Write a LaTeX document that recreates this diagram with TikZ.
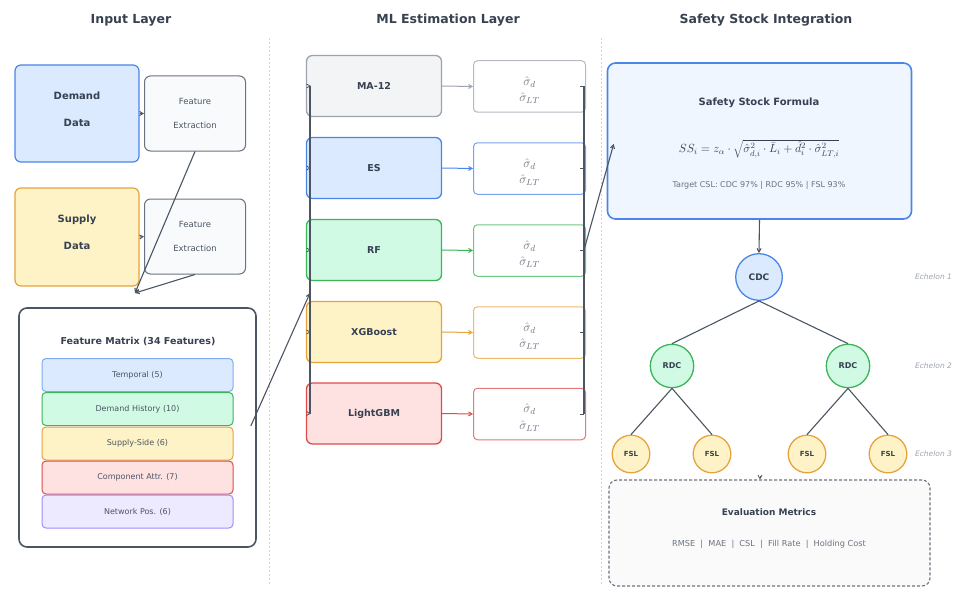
\RequirePackage{fix-cm}
\documentclass[tikz,border=0pt]{standalone}
\usepackage{fontspec}
\setmainfont{DejaVu Sans}
\usetikzlibrary{arrows.meta,calc}
\definecolor{txtdark}{HTML}{374151}
\definecolor{txtgray}{HTML}{6B7280}
\definecolor{txtlight}{HTML}{9CA3AF}
\definecolor{connc}{HTML}{4B5563}
\definecolor{bluefill}{HTML}{DBEAFE}
\definecolor{blueline}{HTML}{4A86E8}
\definecolor{yellowfill}{HTML}{FEF3C7}
\definecolor{yellowline}{HTML}{E6A23C}
\definecolor{greenfill}{HTML}{D1FAE5}
\definecolor{greenline}{HTML}{3CB45A}
\definecolor{redfill}{HTML}{FEE2E2}
\definecolor{redline}{HTML}{DC4C4C}
\definecolor{purplefill}{HTML}{EDE9FE}
\definecolor{purpleline}{HTML}{A78BFA}
\definecolor{grayfill}{HTML}{F3F4F6}
\definecolor{grayline}{HTML}{9CA3AF}
\definecolor{fefill}{HTML}{F8FAFC}
\definecolor{feline}{HTML}{6B7280}
\definecolor{ssfill}{HTML}{EFF6FF}
\definecolor{evalfill}{HTML}{FAFAFA}
\definecolor{sepc}{HTML}{D1D5DB}
\begin{document}
\begin{tikzpicture}[x=1pt,y=-1pt,
  box/.style={draw, rounded corners=6pt, line width=1.2pt, inner sep=0pt},
  title/.style={font=\bfseries\fontsize{12.5}{15}\selectfont, text=txtdark},
  tbold/.style={font=\bfseries\fontsize{10}{12}\selectfont, text=txtdark},
  conn/.style={draw=connc, line width=1.1pt},
  arr/.style={-{Straight Barb[length=3.5pt,width=4pt]}},
  sepline/.style={draw=sepc, line width=0.8pt, dash pattern=on 2pt off 2pt},
  featbox/.style={box, rounded corners=4pt, line width=1pt, minimum width=191pt, minimum height=33pt, font=\fontsize{8}{10}\selectfont, text=connc},
  model/.style={box, line width=1.3pt, minimum width=135pt, minimum height=61pt, font=\bfseries\fontsize{9.5}{11}\selectfont, text=txtdark},
  outbox/.style={box, rounded corners=4pt, line width=1pt, fill=white, minimum width=112pt, minimum height=51.5pt},
  sig/.style={font=\fontsize{12.5}{14}\selectfont, text=txtgray},
  circ/.style={circle, draw, line width=1.3pt, inner sep=0pt, text=txtdark},
  ech/.style={font=\itshape\fontsize{7.5}{9}\selectfont, text=txtlight},
]
\useasboundingbox (0,0) rectangle (954,602);

% titles
\node[title] (t1) at (131,20) {Input Layer};
\node[title] (t2) at (448,20) {ML Estimation Layer};
\node[title] (t3) at (766,20) {Safety Stock Integration};

% separators
\draw[sepline] (269,38) -- (269,584);
\draw[sepline] (601,38) -- (601,584);

% input layer
\node[box, fill=bluefill, draw=blueline, minimum width=124pt, minimum height=97pt] (demand) at (77,113.5) {};
\node[tbold, align=center] (demandtxt) at (77,109.5) {Demand\\[15pt]Data};
\node[box, fill=yellowfill, draw=yellowline, minimum width=124pt, minimum height=98pt] (supply) at (77,237) {};
\node[tbold, align=center] (supplytxt) at (77,232.5) {Supply\\[15pt]Data};
\node[box, fill=fefill, draw=feline, line width=1pt, minimum width=101pt, minimum height=75pt, font=\fontsize{8.5}{10.2}\selectfont, text=connc, align=center] (fe1) at (195,113.5) {Feature\\[13.8pt]Extraction};
\node[box, fill=fefill, draw=feline, line width=1pt, minimum width=101pt, minimum height=75pt, font=\fontsize{8.5}{10.2}\selectfont, text=connc, align=center] (fe2) at (195,236.5) {Feature\\[13.8pt]Extraction};
\draw[conn, arr, line width=0.9pt] (demand.east) -- (fe1.west);
\draw[conn, arr, line width=0.9pt] (supply.east) -- (fe2.west);
\coordinate (merge) at (135,293);
\draw[conn, arr] (fe1.south) -- (merge);
\draw[conn, arr] (fe2.south) -- (merge);

% feature matrix
\node[box, fill=white, draw=connc, line width=1.6pt, rounded corners=8pt, minimum width=237pt, minimum height=239pt] (fm) at (137.5,427.5) {};
\node[font=\bfseries\fontsize{9.5}{11}\selectfont, text=txtdark] (fmtitle) at (138,342) {Feature Matrix (34 Features)};
\node[featbox, fill=bluefill, draw=blueline!70!white] (f1) at (137.5,375) {Temporal (5)};
\node[featbox, fill=greenfill, draw=greenline] (f2) at (137.5,409) {Demand History (10)};
\node[featbox, fill=yellowfill, draw=yellowline] (f3) at (137.5,443.5) {Supply-Side (6)};
\node[featbox, fill=redfill, draw=redline] (f4) at (137.5,477.5) {Component Attr. (7)};
\node[featbox, fill=purplefill, draw=purpleline] (f5) at (137.5,511.5) {Network Pos. (6)};

% ML layer
\coordinate (busin) at (310,293);
\draw[conn, arr] ([xshift=-6pt,yshift=1.5pt]fm.east) -- (busin);
\coordinate (bLtop) at (310,86);
\coordinate (bLbot) at (310,413.5);
\coordinate (bRtop) at (584,86);
\coordinate (bRbot) at (584,413.5);
\foreach \n/\lab/\yy/\fc/\lc in {m1/MA-12/86/grayfill/grayline, m2/ES/168/bluefill/blueline, m3/RF/250/greenfill/greenline, m4/XGBoost/332/yellowfill/yellowline, m5/LightGBM/413.5/redfill/redline}{
  \node[model, fill=\fc, draw=\lc] (\n) at (374,\yy) {\lab};
  \node[outbox, draw=\lc!75!white] (o\n) at (529.5,\yy+0.5) {};
  \node[sig] (sa\n) at (529.5,\yy-4) {$\hat{\sigma}_d$};
  \node[sig] (sb\n) at (529.5,\yy+12.5) {$\hat{\sigma}_{LT}$};
  \draw[draw=\lc, line width=1pt, arr] (\n.east) -- (o\n.west);
  \draw[conn, arr, line width=0.8pt] (\n.west -| bLtop) -- ([xshift=5pt]\n.west);
  \draw[conn, line width=0.8pt] ([xshift=-6pt]o\n.east) -- (o\n.east -| bRtop);
}
\draw[conn, line width=1.5pt] (bLtop) -- (bLbot);
\draw[conn, line width=1.5pt] (bRtop) -- (bRbot);

% safety stock
\node[box, fill=ssfill, draw=blueline, line width=1.6pt, rounded corners=8pt, minimum width=304pt, minimum height=156pt] (ss) at (759.5,141) {};
\node[tbold] (sstitle) at (759,103) {Safety Stock Formula};
\node[text=txtdark, font=\fontsize{11.8}{13}\selectfont] (ssform) at (759,149) {$SS_i = z_\alpha \cdot \sqrt{\hat{\sigma}^2_{d,i}\cdot \bar{L}_i + \hat{d}_i^2 \cdot \hat{\sigma}^2_{LT,i}}$};
\node[font=\fontsize{8}{9.6}\selectfont, text=txtgray] (sscsl) at (759,185) {Target CSL: CDC 97\% | RDC 95\% | FSL 93\%};
\coordinate (busout) at (584,250);
\draw[conn, arr] (busout) -- ([xshift=7pt,yshift=-3pt]ss.west);

% network
\node[circ, fill=bluefill, draw=blueline, minimum size=46.6pt, font=\bfseries\fontsize{9}{11}\selectfont] (cdc) at (759,277) {CDC};
\node[circ, fill=greenfill, draw=greenline, minimum size=43.4pt, font=\bfseries\fontsize{8}{10}\selectfont] (rdc1) at (672,366) {RDC};
\node[circ, fill=greenfill, draw=greenline, minimum size=43.4pt, font=\bfseries\fontsize{8}{10}\selectfont] (rdc2) at (848,366) {RDC};
\foreach \n/\xx in {fsl1/631, fsl2/712, fsl3/807, fsl4/888}{
  \node[circ, fill=yellowfill, draw=yellowline, minimum size=37.6pt, font=\bfseries\fontsize{7}{9}\selectfont] (\n) at (\xx,454) {FSL};
}
\draw[conn, arr] (ss.south) -- (cdc.north);
\draw[conn] (cdc.south) -- (rdc1.north);
\draw[conn] (cdc.south) -- (rdc2.north);
\draw[conn] (rdc1.south) -- (fsl1.north);
\draw[conn] (rdc1.south) -- (fsl2.north);
\draw[conn] (rdc2.south) -- (fsl3.north);
\draw[conn] (rdc2.south) -- (fsl4.north);
\node[ech] (e1) at (933.5,277) {Echelon 1};
\node[ech] (e2) at (933.5,366) {Echelon 2};
\node[ech] (e3) at (933.5,454) {Echelon 3};

% evaluation
\node[box, fill=evalfill, draw=txtgray, line width=1.1pt, dash pattern=on 3pt off 2pt, rounded corners=8pt, minimum width=321pt, minimum height=106pt] (eval) at (769.5,533) {};
\node[font=\bfseries\fontsize{9}{11}\selectfont, text=txtdark] (evtitle) at (769,512) {Evaluation Metrics};
\node[font=\fontsize{8.2}{10}\selectfont, text=txtgray] (evmet) at (769,544) {RMSE \ | \ MAE \ | \ CSL \ | \ Fill Rate \ | \ Holding Cost};
\coordinate (evin) at (760,476);
\draw[conn, arr, line width=0.8pt] (evin) -- (eval.north -| evin);
\end{tikzpicture}
\end{document}
